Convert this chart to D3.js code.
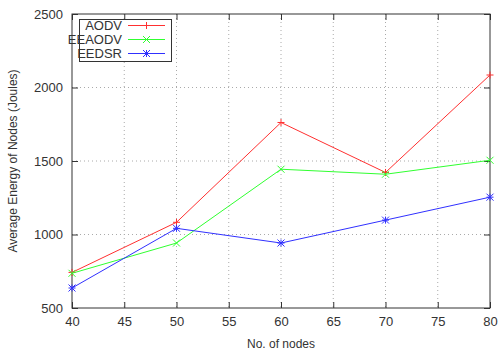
<!DOCTYPE html>
<html>
<head>
<meta charset="utf-8">
<script src="https://cdn.jsdelivr.net/npm/d3@7"></script>
<style>
body { margin: 0; background: #fff; }
svg text { font-family: "Liberation Sans", Arial, sans-serif; fill: #333; }
</style>
</head>
<body>
<div id="chart"></div>
<script>
var nodes = [40, 50, 60, 70, 80];
var aodv = [742, 1083, 1762, 1422, 2085];
var eeaodv = [736, 942, 1444, 1410, 1505];
var eedsr = [636, 1042, 942, 1098, 1254];
var xTicks = [40, 45, 50, 55, 60, 65, 70, 75, 80];
var yTicks = [500, 1000, 1500, 2000, 2500];
var seriesNames = ["AODV", "EEAODV", "EEDSR"];
var colors = ["#ff3030", "#30ff30", "#3030ff"];
var markers = ["plus", "cross", "star"];

var larg = 499, haut = 351;
var pLeft = 72, pRight = 490, pTop = 14, pBottom = 308;

var svg = d3.select("#chart").append("svg")
    .attr("width", larg).attr("height", haut);

var x = d3.scaleLinear().domain([40, 80]).range([pLeft, pRight]);
var y = d3.scaleLinear().domain([500, 2500]).range([pBottom, pTop]);

// grille pointillée
svg.append("g").selectAll("line")
    .data(xTicks.slice(1, -1)).enter().append("line")
    .attr("x1", function(d){ return x(d); }).attr("x2", function(d){ return x(d); })
    .attr("y1", pTop).attr("y2", pBottom)
    .attr("stroke", "#aaa").attr("stroke-dasharray", "1,3");
svg.append("g").selectAll("line")
    .data(yTicks.slice(1, -1)).enter().append("line")
    .attr("x1", pLeft).attr("x2", pRight)
    .attr("y1", function(d){ return y(d); }).attr("y2", function(d){ return y(d); })
    .attr("stroke", "#aaa").attr("stroke-dasharray", "1,3");

// axes (ticks dedans, des deux côtés)
var axB = svg.append("g").attr("transform", "translate(0," + pBottom + ")")
    .call(d3.axisBottom(x).tickValues(xTicks).tickSizeInner(-6).tickSizeOuter(0).tickPadding(9));
var axT = svg.append("g").attr("transform", "translate(0," + pTop + ")")
    .call(d3.axisTop(x).tickValues(xTicks).tickSizeInner(-6).tickSizeOuter(0).tickFormat(""));
var axL = svg.append("g").attr("transform", "translate(" + pLeft + ",0)")
    .call(d3.axisLeft(y).tickValues(yTicks).tickSizeInner(-6).tickSizeOuter(0).tickPadding(9)
        .tickFormat(d3.format("d")));
var axR = svg.append("g").attr("transform", "translate(" + pRight + ",0)")
    .call(d3.axisRight(y).tickValues(yTicks).tickSizeInner(-6).tickSizeOuter(0).tickFormat(""));
[axB, axT, axL, axR].forEach(function(a){
    a.select(".domain").remove();
    a.selectAll("line").attr("stroke", "#333");
    a.selectAll("text").attr("font-size", "13px").attr("fill", "#333")
        .style("font-family", "Liberation Sans, Arial, sans-serif");
});
svg.append("rect").attr("x", pLeft).attr("y", pTop)
    .attr("width", pRight - pLeft).attr("height", pBottom - pTop)
    .attr("fill", "none").attr("stroke", "#333").attr("stroke-width", 1);

function marker(g, type, cx, cy, col) {
    var s = 3.5;
    var p = [];
    if (type === "plus" || type === "star") {
        p.push([cx - s, cy, cx + s, cy]);
        p.push([cx, cy - s, cx, cy + s]);
    }
    if (type === "cross" || type === "star") {
        p.push([cx - s, cy - s, cx + s, cy + s]);
        p.push([cx - s, cy + s, cx + s, cy - s]);
    }
    p.forEach(function(l){
        g.append("line").attr("x1", l[0]).attr("y1", l[1]).attr("x2", l[2]).attr("y2", l[3])
            .attr("stroke", col).attr("stroke-width", 1);
    });
}

var allSeries = [aodv, eeaodv, eedsr];
var line = d3.line()
    .x(function(d, i){ return x(nodes[i]); })
    .y(function(d){ return y(d); });

allSeries.forEach(function(vals, k){
    var g = svg.append("g");
    g.append("path").datum(vals).attr("d", line)
        .attr("fill", "none").attr("stroke", colors[k]).attr("stroke-width", 1);
    vals.forEach(function(v, i){
        marker(g, markers[k], x(nodes[i]), y(v), colors[k]);
    });
});

// légende
var lg = svg.append("g");
lg.append("rect").attr("x", 79.5).attr("y", 19.5).attr("width", 92).attr("height", 42)
    .attr("fill", "#fff").attr("stroke", "#333");
seriesNames.forEach(function(n, k){
    var ly = 25.5 + k * 14;
    lg.append("text").attr("x", 122).attr("y", ly + 4.5).attr("text-anchor", "end")
        .attr("font-size", "13px").text(n);
    lg.append("line").attr("x1", 128).attr("x2", 165).attr("y1", ly).attr("y2", ly)
        .attr("stroke", colors[k]);
    marker(lg, markers[k], 146.5, ly, colors[k]);
});

svg.append("text").attr("x", (pLeft + pRight) / 2).attr("y", 348)
    .attr("text-anchor", "middle").attr("font-size", "12px").text("No. of nodes");
svg.append("text").attr("transform", "translate(17," + ((pTop + pBottom) / 2) + ") rotate(-90)")
    .attr("text-anchor", "middle").attr("font-size", "12px")
    .text("Average Energy of Nodes (Joules)");
</script>
</body>
</html>
